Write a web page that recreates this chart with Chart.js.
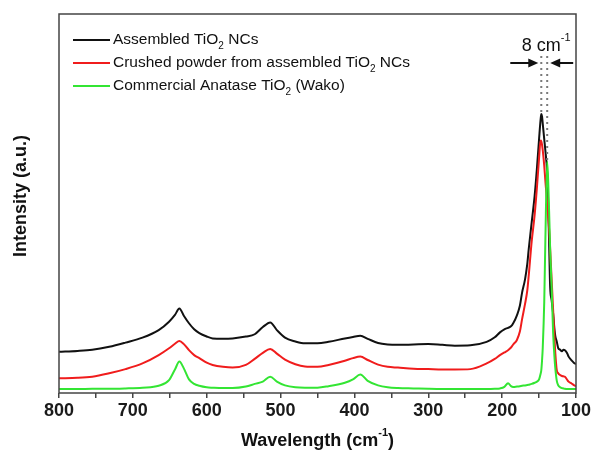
<!DOCTYPE html>
<html>
<head>
<meta charset="utf-8">
<script src="https://cdn.jsdelivr.net/npm/chart.js@4.4.1/dist/chart.umd.min.js"></script>
<style>
html, body { margin: 0; padding: 0; background: #fff; }
#wrap { width: 594px; height: 463px; }
</style>
</head>
<body>
<div id="wrap"><canvas id="raman" width="594" height="463"></canvas></div>
<script>
// Raman shift (cm-1), shared by all three spectra
const wavenumbers = [800, 775, 755, 732, 710, 687, 665, 651, 643, 637,
    631, 624, 617, 610, 600, 592, 578, 565, 547, 535,
    524, 514, 505, 494, 480, 467, 450, 435, 413, 402,
    392, 382, 368, 355, 341, 320, 300, 281, 264, 243,
    221, 210, 203, 197, 192, 188, 185, 180, 176, 173,
    169, 166, 164, 160, 156, 153, 150, 148, 147, 146,
    145, 143, 141.5, 139, 137.5, 136, 135, 133, 131, 129,
    128, 126, 124, 122, 119, 117, 115, 112, 110, 106,
    103, 100];

const assembled = [10.9, 11.1, 11.4, 12.2, 13.3, 14.6, 16.6, 18.8, 20.6, 22.3,
    20.4, 18.4, 16.8, 15.8, 14.9, 14.4, 14.3, 14.4, 14.9, 15.5,
    17.4, 18.6, 16.6, 14.6, 13.6, 13.1, 13.1, 13.5, 14.4, 14.8,
    15.1, 14.3, 13.2, 12.8, 12.7, 12.8, 12.9, 12.7, 12.5, 12.6,
    13.5, 14.7, 16.0, 16.8, 17.2, 17.6, 18.4, 20.5, 23, 26.5,
    30, 34, 38, 45, 52, 59, 67, 72, 73.6, 73,
    71, 67, 64, 58, 49, 36, 28, 24.5, 21, 16.5,
    15, 13.5, 11.8, 11.5, 11.0, 11.4, 11.3, 10.5, 9.6, 8.6,
    8.0, 7.6];

const crushed = [3.9, 4.0, 4.3, 5.2, 6.3, 7.8, 10.0, 11.8, 13.0, 13.7,
    12.9, 11.3, 10.0, 9.2, 8.0, 7.4, 6.9, 6.7, 7.4, 9.0,
    10.6, 11.6, 10.4, 8.8, 7.6, 7.0, 6.9, 7.4, 8.5, 9.2,
    9.6, 8.7, 7.5, 6.9, 6.7, 6.4, 6.3, 6.2, 6.2, 6.3,
    7.8, 9.0, 10.0, 10.7, 11.3, 12.0, 12.8, 14.0, 16.2, 19.5,
    23.5, 27, 31, 40, 47, 54, 62, 66.6, 66.4, 65.5,
    64, 60, 56, 50, 46, 42, 38, 30, 22, 14,
    10.5, 6.0, 5.2, 4.8, 4.5, 4.4, 4.3, 3.5, 3.0, 2.5,
    2.1, 1.8];

const commercial = [1.05, 1.05, 1.1, 1.1, 1.2, 1.4, 1.9, 3.4, 6.2, 8.3,
    6.5, 3.6, 2.4, 1.9, 1.5, 1.4, 1.3, 1.3, 1.7, 2.4,
    3.0, 4.3, 3.0, 2.0, 1.5, 1.4, 1.4, 1.8, 2.7, 3.6,
    4.9, 3.2, 2.0, 1.5, 1.3, 1.2, 1.1, 1.05, 1.05, 1.05,
    1.05, 1.1, 1.2, 1.6, 2.6, 1.8, 1.6, 1.7, 1.8, 1.9,
    2.0, 2.1, 2.2, 2.4, 2.7, 3.0, 3.6, 5.0, 6.0, 8.5,
    12, 24, 40, 61, 55, 45, 38, 28, 16, 9,
    6.5, 3.2, 2.0, 1.6, 1.3, 1.2, 1.1, 1.05, 1.05, 1.05,
    1.05, 1.05];

// "_x" marks a subscript
const seriesNames = ['Assembled TiO_2 NCs', 'Crushed powder from assembled TiO_2 NCs', 'Commercial Anatase TiO_2 (Wako)'];
const seriesColors = ['#111111', '#f01c1c', '#33e533'];
const xTickLabels = [800, 700, 600, 500, 400, 300, 200, 100];
const peakShift = 8;

const FONT = '"Liberation Sans", Arial, sans-serif';

function points(ys) {
    return wavenumbers.map((w, i) => ({ x: w, y: ys[i] }));
}

function peakOf(ys) {
    let k = 0;
    ys.forEach((v, i) => { if (v > ys[k]) k = i; });
    return { x: wavenumbers[k], y: ys[k] };
}

// draws text where '_x' is a subscript and '^x' a superscript
function richText(ctx, str, x, y, size, weight, align) {
    const parts = [];
    const re = /([_^])(\S+?)(?=\s|\)|$)|([^_^]+)/g;
    let m;
    while ((m = re.exec(str))) {
        if (m[3]) parts.push({ t: m[3], mode: 0 });
        else parts.push({ t: m[2], mode: m[1] === '_' ? 1 : -1 });
    }
    const small = Math.round(size * 0.62);
    let total = 0;
    parts.forEach(p => {
        ctx.font = `${weight} ${p.mode ? small : size}px ${FONT}`;
        p.w = ctx.measureText(p.t).width;
        total += p.w;
    });
    let cx = align === 'center' ? x - total / 2 : x;
    ctx.textAlign = 'left';
    ctx.textBaseline = 'middle';
    parts.forEach(p => {
        ctx.font = `${weight} ${p.mode ? small : size}px ${FONT}`;
        const dy = p.mode === 1 ? size * 0.38 : p.mode === -1 ? -size * 0.42 : 0;
        ctx.fillText(p.t, cx, y + dy);
        cx += p.w;
    });
}

const decorations = {
    id: 'decorations',
    afterDatasetsDraw(chart) {
        const { ctx, chartArea: a, scales } = chart;
        const sx = scales.x, sy = scales.y;
        ctx.save();

        // frame
        ctx.strokeStyle = '#444';
        ctx.lineWidth = 1.5;
        ctx.strokeRect(a.left, a.top, a.right - a.left, a.bottom - a.top);

        // legend
        ctx.fillStyle = '#111';
        seriesNames.forEach((name, i) => {
            const y = 40 + i * 23;
            ctx.strokeStyle = seriesColors[i];
            ctx.lineWidth = 2;
            ctx.beginPath();
            ctx.moveTo(73, y);
            ctx.lineTo(110, y);
            ctx.stroke();
            richText(ctx, name, 113, y, 15.5, 'normal', 'left');
        });

        // peak shift marker
        const pA = peakOf(assembled);
        const pC = peakOf(commercial);
        const xA = sx.getPixelForValue(pA.x);
        const xC = sx.getPixelForValue(pC.x);
        const top = 56;
        ctx.strokeStyle = '#7a7a7a';
        ctx.lineWidth = 2;
        ctx.setLineDash([2, 4]);
        ctx.beginPath();
        ctx.moveTo(xA, top);
        ctx.lineTo(xA, sy.getPixelForValue(pA.y));
        ctx.moveTo(xC, top);
        ctx.lineTo(xC, sy.getPixelForValue(pC.y));
        ctx.stroke();
        ctx.setLineDash([]);

        const ay = 63;
        ctx.strokeStyle = '#111';
        ctx.fillStyle = '#111';
        ctx.lineWidth = 2;
        ctx.beginPath();
        ctx.moveTo(xA - 31, ay);
        ctx.lineTo(xA - 10, ay);
        ctx.moveTo(xC + 26, ay);
        ctx.lineTo(xC + 10, ay);
        ctx.stroke();
        ctx.beginPath();
        ctx.moveTo(xA - 3, ay);
        ctx.lineTo(xA - 13, ay - 4.5);
        ctx.lineTo(xA - 13, ay + 4.5);
        ctx.closePath();
        ctx.moveTo(xC + 3, ay);
        ctx.lineTo(xC + 13, ay - 4.5);
        ctx.lineTo(xC + 13, ay + 4.5);
        ctx.closePath();
        ctx.fill();
        richText(ctx, `${peakShift} cm^-1`, (xA + xC) / 2 + 2, 46, 18, 'normal', 'center');

        // axis titles
        ctx.fillStyle = '#111';
        richText(ctx, 'Wavelength (cm^-1)', (a.left + a.right) / 2, 441, 18, 'bold', 'center');
        ctx.translate(21, 196);
        ctx.rotate(-Math.PI / 2);
        richText(ctx, 'Intensity (a.u.)', 0, 0, 18, 'bold', 'center');
        ctx.restore();
    }
};

const datasets = [assembled, crushed, commercial].map((ys, i) => ({
    label: seriesNames[i],
    data: points(ys),
    borderColor: seriesColors[i],
    borderWidth: 2,
    pointRadius: 0,
    cubicInterpolationMode: 'monotone',
    order: 3 - i
}));

new Chart(document.getElementById('raman'), {
    type: 'line',
    data: { datasets },
    options: {
        responsive: false,
        animation: false,
        devicePixelRatio: 1,
        layout: { padding: { left: 59, right: 18, top: 14, bottom: 0 } },
        plugins: { legend: { display: false }, tooltip: { enabled: false } },
        scales: {
            x: {
                type: 'linear',
                reverse: true,
                min: 100,
                max: 800,
                afterFit: s => { s.height = 70; },
                afterBuildTicks: s => {
                    const t = [];
                    for (let v = 800; v >= 100; v -= 50) t.push({ value: v });
                    s.ticks = t;
                },
                ticks: {
                    autoSkip: false,
                    maxRotation: 0,
                    padding: 2,
                    color: '#1a1a1a',
                    font: { family: FONT, size: 18, weight: 'bold' },
                    callback: v => xTickLabels.includes(v) ? String(v) : ''
                },
                grid: { drawOnChartArea: false, tickLength: 5, color: '#444', lineWidth: 1.5 },
                border: { display: false }
            },
            y: {
                display: false,
                min: 0,
                max: 100
            }
        }
    },
    plugins: [decorations]
});
</script>
</body>
</html>
